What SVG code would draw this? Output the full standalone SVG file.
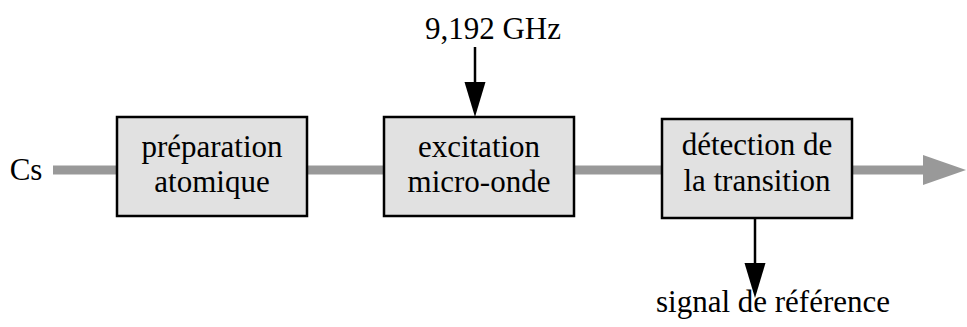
<svg xmlns="http://www.w3.org/2000/svg" width="967" height="327" viewBox="0 0 967 327">
<style>
.box{fill:#e1e1e1;stroke:#000;stroke-width:2.5}
.t{font-family:"Liberation Serif",serif;font-size:31px;fill:#000;text-anchor:middle}
.flow{stroke:#999;stroke-width:9;fill:none}
.sig{stroke:#000;stroke-width:2.5;fill:none}
</style>
<rect width="967" height="327" fill="#fff"/>
<g id="connectors">
<line class="flow" x1="53" y1="170" x2="117" y2="170"/>
<line class="flow" x1="307" y1="170" x2="384" y2="170"/>
<line class="flow" x1="574" y1="170" x2="662" y2="170"/>
<line class="flow" x1="852" y1="170" x2="925" y2="170"/>
<polygon points="923,155 966,170 923,185" fill="#999"/>
<line class="sig" x1="475" y1="47" x2="475" y2="84"/>
<polygon points="464.5,82 485.5,82 475,117" fill="#000"/>
<line class="sig" x1="755" y1="218" x2="755" y2="265"/>
<polygon points="744.5,263 765.5,263 755,298" fill="#000"/>
</g>
<g id="cs"><text class="t" x="26" y="180">Cs</text></g>
<g id="ghz"><text class="t" x="493" y="39">9,192 GHz</text></g>
<g id="ref"><text class="t" x="773" y="312">signal de référence</text></g>
<g id="prep">
<rect class="box" x="117" y="117" width="190" height="99"/>
<text class="t" x="212" y="157">préparation</text>
<text class="t" x="212" y="192">atomique</text>
</g>
<g id="excit">
<rect class="box" x="384" y="117" width="190" height="99"/>
<text class="t" x="479" y="157">excitation</text>
<text class="t" x="479" y="192">micro-onde</text>
</g>
<g id="detect">
<rect class="box" x="662" y="119" width="190" height="99"/>
<text class="t" x="757" y="155">détection de</text>
<text class="t" x="757" y="191">la transition</text>
</g>
</svg>
